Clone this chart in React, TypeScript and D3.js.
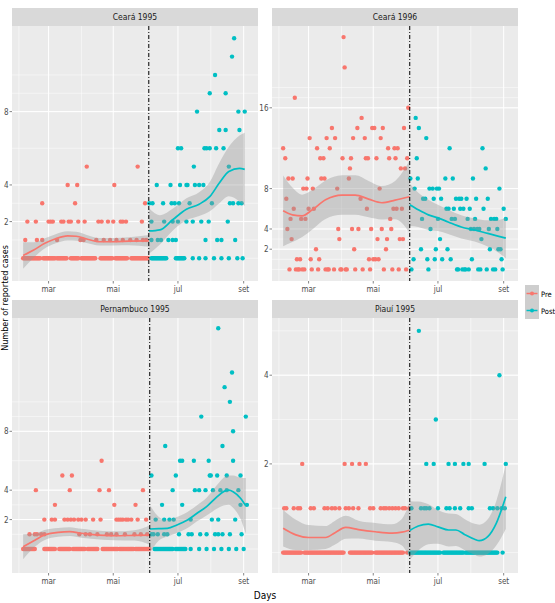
import * as d3 from 'd3'

// ---- data ----
const panelTitles = ['Ceará 1995', 'Ceará 1996', 'Pernambuco 1995', 'Piauí 1995']
const monthLabels = ['mar', 'mai', 'jul', 'set']
const monthDates = [new Date(1995, 2, 1), new Date(1995, 4, 1), new Date(1995, 6, 1), new Date(1995, 8, 1)]
const monthMinorDates = [new Date(1995, 1, 1), new Date(1995, 3, 1), new Date(1995, 5, 1), new Date(1995, 7, 1)]
const xLimits = [new Date(1995, 0, 25, 12), new Date(1995, 8, 14, 12)]
const firstDay = new Date(1995, 1, 5)
const yBreaks = [2, 4, 8, 16]
const yLimits = [[-1.24, 12.67], [-1.15, 24.1], [-1.63, 15.7], [-0.46, 5.29]]
const cutDays = [118.5, 119.4, 119.4, 119.4]
const groups = ['Pre', 'Post']

// rows[v] = days after firstDay with a count of v; [a, b] = a dense run of dots
const ceara1995Rows: (number | number[])[][] = [
  [[0, 16], [19, 30], [32, 41], [45, 52], [55, 68], [73, 84], [87, 98], [102, 118], [121, 135], [144, 152], 160, 166, 172, 180, 187, 194, 202, 207],
  [2, 13, 18, 32, 54, 57, 69, 76, 82, 88, 94, 101, 107, 113, 116, 121, 127, 130, 137, 141, 144, 172, 183, 187, 200],
  [4, 12, 24, 26, 28, 36, 38, 43, 45, 52, 58, 71, 74, 80, 85, 92, 94, 97, 112, 121, 133, 141, 146, 154, 160, 168, 175, 193],
  [18, 49, 115, 119, 122, 132, 140, 143, 147, 157, 178, 195, 198, 203, 206],
  [42, 51, 86, 126, 139, 148, 154, 155, 162, 166, 170],
  [60, 108, 161, 194],
  [146, 149, 171, 173, 176, 182, 189],
  [185, 191, 204],
  [164, 203, 209],
  [176, 191],
  [181],
  [197],
  [199],
]

const ceara1996Rows: (number | number[])[][] = [
  [6, 12, 14, 15, 18, 20, 27, 33, 40, 42, 43, 48, 54, 55, 59, 60, 68, 75, 82, 95, 103, 109, 116, 121, 137, 164, 165, 169, 171, 172, 175, 184, 186, 192, 198, 200, 207],
  [13, 16, 26, 34, 81, 85, 87, 90, 123, 136, 143, 150, 158, 178, 206],
  [31, 67, 97, 130, 144, 155, 195, 203, 205],
  [8, 53, 89, 98, 110, 113, 148, 187],
  [4, 52, 65, 71, 83, 93, 102, 139, 177, 180, 183, 185, 194, 202],
  [7, 17, 21, 101, 131, 146, 159, 162, 174, 181, 196, 199, 201, 210],
  [10, 24, 29, 79, 104, 107, 112, 154, 156, 161, 167, 170, 176, 189, 208],
  [3, 73, 132, 134, 142, 149, 163, 166, 168, 173, 182, 193],
  [19, 22, 28, 51, 91, 124, 138, 141, 145, 147, 204],
  [5, 9, 23, 36, 39, 62, 120, 127, 153, 160, 179],
  [63, 111, 115, 191],
  [2, 35, 38, 56, 64, 78, 80, 88, 100, 106, 117, 126],
  [0, 32, 44, 99, 105, 108, 157, 188],
  [25, 41, 49, 66, 77, 92, 135],
  [46, 70, 84, 86, 94, 114, 128],
  [74, 125],
  [118],
  [11],
  [],
  [],
  [58],
  [],
  [],
  [57],
]

const pernambucoRows: (number | number[])[][] = [
  [[0, 11], [20, 30], [34, 44], [47, 58], [61, 70], [75, 89], [91, 104], [106, 119], [124, 141], [144, 153], 158, 166, 173, 180, 187, 194, 201, 208],
  [6, 11, 13, 17, 20, 53, 59, 63, 70, 79, 83, 88, 96, 105, 111, 117, 121, 123, 127, 133, 136, 147, 156, 159, 167, 173, 181, 184, 188, 195, 206],
  [20, 27, 30, 39, 42, 45, 48, 52, 55, 59, 66, 73, 88, 90, 92, 94, 97, 99, 102, 108, 116, 125, 133, 138, 142, 158, 178, 184, 200],
  [30, 86, 106, 131, 150, 205, 211],
  [12, 44, 72, 81, 113, 141, 162, 166, 172, 179, 186, 192, 203],
  [37, 46, 121, 144, 176, 177, 183, 192, 205],
  [74, 148, 150, 161, 175, 198],
  [134, 188],
  [198],
  [168, 210],
  [195],
  [190],
  [197],
  [],
  [],
  [184],
]

const piauiRows: (number | number[])[][] = [
  [[0, 17], [20, 57], [63, 84], [87, 113], 117, [120, 148], [151, 170], [172, 202], 207],
  [1, 3, 10, 14, 16, 26, 29, 39, 42, 46, 49, 53, 59, 62, 66, 71, 82, 85, 92, 95, 97, 100, 103, 106, 109, 113, 115, 119, 121, 130, 133, 135, 138, 146, 154, 157, 162, 167, 175, 178, 195, 198, 202, 206, 209],
  [18, 58, 65, 72, 78, 135, 142, 156, 162, 170, 175, 190, 210],
  [144],
  [204],
  [128],
]

// loess fits: [day, fit, half width of the grey band]
const ceara1995PreFit = [[0, 0.15, 0.72], [10, 0.45, 0.42], [20, 0.8, 0.28], [30, 1.05, 0.25], [42, 1.22, 0.25], [50, 1.2, 0.24], [60, 1.05, 0.22], [72, 0.9, 0.2], [85, 0.9, 0.2], [100, 0.93, 0.22], [118.5, 0.95, 0.32]]
const ceara1995PostFit = [[118.5, 1.49, 1.25], [129, 1.55, 0.8], [141, 2.1, 0.6], [154, 2.67, 0.6], [166, 2.95, 0.65], [176, 3.36, 0.8], [185, 4.1, 1.1], [194, 4.73, 1.35], [204, 4.9, 1.8], [209, 4.85, 2.0]]
const ceara1996PreFit = [[0, 5.8, 3.5], [8.75, 5.4, 2.7], [18, 5.3, 2.1], [27.5, 5.9, 1.95], [40, 6.9, 1.9], [55.6, 7.36, 1.95], [68, 7.36, 1.95], [80.6, 6.96, 1.8], [93, 6.6, 1.65], [105.6, 6.86, 1.9], [119.4, 7.2, 3.6]]
const ceara1996PostFit = [[119.4, 6.4, 2.1], [127.5, 5.9, 1.7], [137, 5.4, 1.5], [146, 5.1, 1.3], [155.6, 4.7, 1.2], [168, 4.2, 1.15], [180.6, 3.9, 1.15], [193, 3.56, 1.3], [202.5, 3.3, 1.6], [210, 3.1, 2.0]]
const pernambucoPreFit = [[0, 0.16, 0.85], [11, 0.6, 0.45], [20, 0.95, 0.35], [33, 1.13, 0.3], [44, 1.18, 0.3], [55, 1.07, 0.3], [64, 1.0, 0.3], [86, 0.9, 0.3], [105, 0.93, 0.35], [119.4, 0.95, 0.65]]
const pernambucoPostFit = [[119.4, 1.36, 1.65], [128, 1.38, 0.8], [136, 1.4, 0.55], [145, 1.63, 0.55], [155, 1.97, 0.55], [164, 2.43, 0.55], [173, 2.88, 0.6], [183, 3.56, 0.8], [189, 3.9, 0.95], [194, 4.0, 1.0], [198, 3.9, 1.1], [205, 3.45, 1.4], [210, 2.93, 1.9]]
const piauiPreFit = [[0, 0.55, 0.41], [12, 0.4, 0.34], [24, 0.34, 0.28], [40, 0.34, 0.26], [49, 0.45, 0.27], [59, 0.57, 0.26], [71, 0.52, 0.2], [87, 0.47, 0.2], [102.5, 0.44, 0.2], [112, 0.46, 0.3], [119.4, 0.51, 0.64]]
const piauiPostFit = [[119.4, 0.5, 0.66], [127.5, 0.6, 0.55], [137, 0.64, 0.45], [146, 0.58, 0.38], [156, 0.51, 0.37], [163, 0.51, 0.36], [171, 0.41, 0.35], [180.6, 0.3, 0.35], [185, 0.27, 0.36], [193, 0.36, 0.39], [201, 0.66, 0.5], [210, 1.26, 0.73]]

const panelRows = [ceara1995Rows, ceara1996Rows, pernambucoRows, piauiRows]
const panelFits = [
  [ceara1995PreFit, ceara1995PostFit],
  [ceara1996PreFit, ceara1996PostFit],
  [pernambucoPreFit, pernambucoPostFit],
  [piauiPreFit, piauiPostFit],
]

// ---- layout ----
const W = 555
const H = 603
const colX = [12, 272]
const rowY = [26, 318]
const panelW = 246
const panelH = 255
const stripH = 18
const colors = ['#F8766D', '#00BFC4']
const font = "'Liberation Sans Narrow', 'DejaVu Sans Condensed', 'Arial Narrow', sans-serif"

const dayDate = (d: number) => new Date(firstDay.getTime() + d * 864e5)

function minorBreaks(major: number[], lim: number[]) {
  const b = major.slice()
  const bd = b[1] - b[0]
  if (lim[0] < b[0]) b.unshift(b[0] - bd)
  if (lim[1] > b[b.length - 1]) b.push(b[b.length - 1] + bd)
  const out: number[] = []
  for (let k = 0; k < b.length - 1; k++) out.push(b[k], (b[k] + b[k + 1]) / 2)
  out.push(b[b.length - 1])
  return out.filter(v => v >= lim[0] && v <= lim[1])
}

function Panel({ idx }: { idx: number }) {
  const x0 = colX[idx % 2]
  const y0 = rowY[Math.floor(idx / 2)]
  const x = d3.scaleTime().domain(xLimits).range([x0, x0 + panelW])
  const y = d3.scaleLinear().domain(yLimits[idx]).range([y0 + panelH, y0])
  const major = yBreaks.filter(b => b >= yLimits[idx][0] && b <= yLimits[idx][1])
  const minor = minorBreaks(major, yLimits[idx])
  const cut = cutDays[idx]

  const points: { d: number; v: number }[] = []
  panelRows[idx].forEach((row, v) => {
    row.forEach(e => {
      if (Array.isArray(e)) {
        for (let d = e[0]; d <= e[1]; d++) points.push({ d, v })
      } else points.push({ d: e, v })
    })
  })

  const line = d3.line<number[]>()
    .x(p => x(dayDate(p[0])))
    .y(p => y(p[1]))
    .curve(d3.curveMonotoneX)
  const band = d3.area<number[]>()
    .x(p => x(dayDate(p[0])))
    .y0(p => y(p[1] - p[2]))
    .y1(p => y(p[1] + p[2]))
    .curve(d3.curveMonotoneX)

  const clipId = `clip-${idx}`
  const cutX = x(dayDate(cut))

  return (
    <g>
      <defs>
        <clipPath id={clipId}>
          <rect x={x0} y={y0} width={panelW} height={panelH} />
        </clipPath>
      </defs>
      {/* strip */}
      <rect x={x0} y={y0 - stripH} width={panelW} height={stripH} fill="#D9D9D9" />
      <text x={x0 + panelW / 2} y={y0 - stripH / 2 + 3} textAnchor="middle" fontSize={8.5} fill="#1A1A1A" fontFamily={font}>
        {panelTitles[idx]}
      </text>
      {/* panel + grid */}
      <rect x={x0} y={y0} width={panelW} height={panelH} fill="#EBEBEB" />
      {minor.map(v => (
        <line key={'ym' + v} x1={x0} x2={x0 + panelW} y1={y(v)} y2={y(v)} stroke="#fff" strokeWidth={0.5} />
      ))}
      {monthMinorDates.map((m, i) => (
        <line key={'xm' + i} x1={x(m)} x2={x(m)} y1={y0} y2={y0 + panelH} stroke="#fff" strokeWidth={0.5} />
      ))}
      {major.map(v => (
        <line key={'yM' + v} x1={x0} x2={x0 + panelW} y1={y(v)} y2={y(v)} stroke="#fff" strokeWidth={1} />
      ))}
      {monthDates.map((m, i) => (
        <line key={'xM' + i} x1={x(m)} x2={x(m)} y1={y0} y2={y0 + panelH} stroke="#fff" strokeWidth={1} />
      ))}
      <g clipPath={`url(#${clipId})`}>
        {points.map((p, i) => (
          <circle key={i} cx={x(dayDate(p.d))} cy={y(p.v)} r={2.2} fill={p.d < cut ? colors[0] : colors[1]} />
        ))}
        {panelFits[idx].map((fit, g) => (
          <path key={'b' + g} d={band(fit) || ''} fill="#999999" fillOpacity={0.4} />
        ))}
        {panelFits[idx].map((fit, g) => (
          <path key={'l' + g} d={line(fit) || ''} fill="none" stroke={colors[g]} strokeWidth={1.7} />
        ))}
        <line x1={cutX} x2={cutX} y1={y0} y2={y0 + panelH} stroke="#000" strokeWidth={1} strokeDasharray="4,2,1,2" />
      </g>
      {/* y axis */}
      {major.map(v => (
        <g key={'yt' + v}>
          <line x1={x0 - 2.5} x2={x0} y1={y(v)} y2={y(v)} stroke="#333" strokeWidth={0.6} />
          <text x={x0 - 3.5} y={y(v) + 3} textAnchor="end" fontSize={8} fill="#4D4D4D" fontFamily={font}>{v}</text>
        </g>
      ))}
      {/* x axis */}
      {monthDates.map((m, i) => (
        <g key={'xt' + i}>
          <line x1={x(m)} x2={x(m)} y1={y0 + panelH} y2={y0 + panelH + 2.5} stroke="#333" strokeWidth={0.6} />
          <text x={x(m)} y={y0 + panelH + 11} textAnchor="middle" fontSize={8} fill="#4D4D4D" fontFamily={font}>{monthLabels[i]}</text>
        </g>
      ))}
    </g>
  )
}

export default function App() {
  return (
    <svg width={W} height={H} style={{ position: 'absolute', left: 0, top: 0, background: '#fff' }}>
      {panelTitles.map((_, i) => <Panel key={i} idx={i} />)}
      <text x={265} y={599} textAnchor="middle" fontSize={10} fill="#000" fontFamily={font}>Days</text>
      <text transform={`translate(7.5,298) rotate(-90)`} textAnchor="middle" fontSize={9} fill="#000" fontFamily={font}>
        Number of reported cases
      </text>
      {/* legend */}
      {groups.map((gname, i) => {
        const ky = 285 + i * 17
        return (
          <g key={gname}>
            <rect x={525} y={ky} width={14} height={17} fill="#F2F2F2" />
            <rect x={525} y={ky} width={14} height={17} fill="#999999" fillOpacity={0.4} />
            <line x1={526.5} x2={537.5} y1={ky + 8.5} y2={ky + 8.5} stroke={colors[i]} strokeWidth={1.5} />
            <circle cx={532} cy={ky + 8.5} r={2} fill={colors[i]} />
            <text x={541} y={ky + 11.5} fontSize={7.5} fill="#000" fontFamily={font}>{gname}</text>
          </g>
        )
      })}
    </svg>
  )
}
